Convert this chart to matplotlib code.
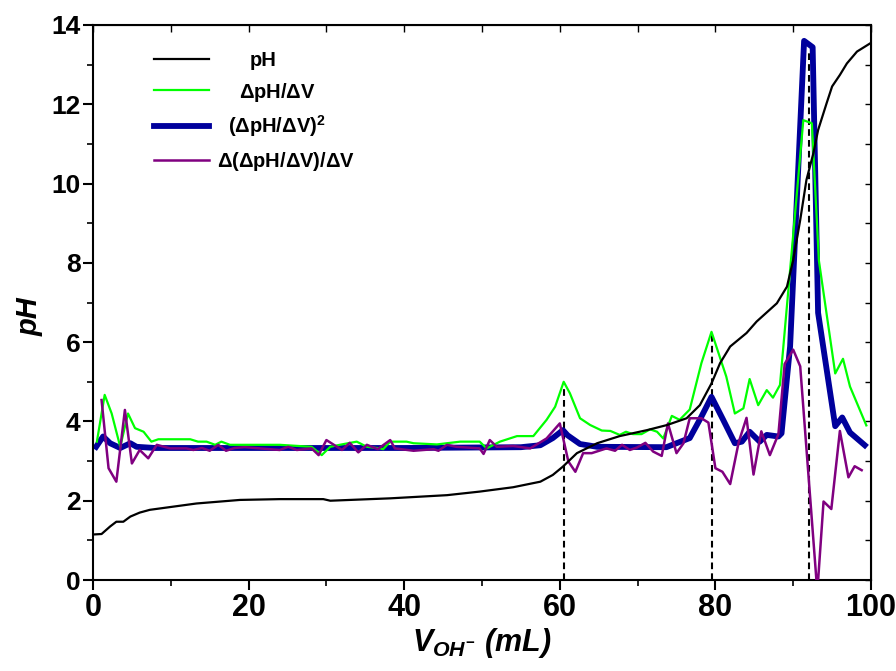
import matplotlib
matplotlib.use('Agg')
import matplotlib.pyplot as plt
from matplotlib.ticker import MultipleLocator

plt.rcParams['font.family'] = ['Liberation Sans', 'DejaVu Sans']
plt.rcParams['font.weight'] = 'bold'
plt.rcParams['mathtext.fontset'] = 'custom'
plt.rcParams['mathtext.rm'] = 'Liberation Sans:bold'
plt.rcParams['mathtext.it'] = 'Liberation Sans:bold:italic'
plt.rcParams['mathtext.bf'] = 'Liberation Sans:bold'

# --- data ---
ph_x = [0.2, 1.1, 2.2, 3.0, 3.9, 4.8, 6.0, 7.3, 10.3, 13.3, 18.9, 24.0, 29.6, 30.5, 38.2,
        45.5, 49.7, 54.0, 57.5, 59.1, 60.4, 62.2, 64.8, 67.7, 71.2, 73.8, 76.3, 78.0, 79.5,
        80.6, 81.9, 84.0, 85.3, 87.9, 88.3, 89.2, 90.0, 90.9, 91.7, 92.6, 93.2, 94.3, 95.0,
        96.0, 96.9, 98.2, 100.0]
ph_y = [1.15, 1.16, 1.35, 1.47, 1.47, 1.60, 1.70, 1.77, 1.85, 1.93, 2.02, 2.04, 2.04, 2.00, 2.06,
        2.14, 2.23, 2.34, 2.48, 2.65, 2.86, 3.20, 3.45, 3.63, 3.78, 3.91, 4.08, 4.41, 4.96,
        5.47, 5.89, 6.23, 6.52, 6.98, 7.11, 7.40, 8.07, 9.08, 10.09, 10.77, 11.35, 12.03, 12.45,
        12.74, 13.03, 13.33, 13.55]

d1_x = [0.5, 1.5, 2.4, 3.5, 4.5, 5.4, 6.5, 7.5, 8.4, 12.5, 13.5, 14.6, 15.7, 16.5, 17.6, 18.9,
        24.0, 28.1, 29.4, 30.5, 31.7, 33.9, 35.2, 36.9, 37.3, 38.2, 40.3, 41.2, 44.2, 47.2, 49.7,
        50.6, 52.3, 54.5, 56.6, 58.3, 59.4, 60.5, 61.3, 62.6, 63.9, 65.4, 66.5, 67.7, 68.5, 69.4,
        70.5, 71.6, 72.5, 73.3, 74.4, 75.4, 76.7, 78.2, 79.5, 81.4, 82.5, 83.6, 84.4, 85.5, 86.6,
        87.4, 88.3, 91.3, 92.4, 93.3, 95.4, 96.4, 97.3, 99.4]
d1_y = [3.49, 4.67, 4.20, 3.36, 4.20, 3.83, 3.74, 3.49, 3.55, 3.55, 3.49, 3.49, 3.41, 3.49, 3.41, 3.41,
        3.41, 3.36, 3.15, 3.36, 3.41, 3.49, 3.36, 3.32, 3.30, 3.49, 3.49, 3.45, 3.42, 3.49, 3.49,
        3.32, 3.49, 3.63, 3.63, 4.04, 4.37, 5.00, 4.71, 4.08, 3.91, 3.77, 3.76, 3.66, 3.74, 3.68,
        3.68, 3.80, 3.74, 3.57, 4.14, 4.04, 4.30, 5.47, 6.26, 5.13, 4.20, 4.33, 5.07, 4.41, 4.79,
        4.60, 4.92, 11.60, 11.52, 8.06, 5.21, 5.58, 4.88, 3.90]

sq_x = [0.4, 1.3, 2.2, 3.5, 4.8, 5.6, 8.0, 20.0, 40.0, 55.0, 57.5, 59.1, 60.4, 61.0, 62.6, 64.8,
        73.7, 75.0, 76.7, 78.2, 79.5, 81.0, 82.5, 83.4, 84.4, 85.7, 86.6, 88.1, 88.5, 89.6, 91.4,
        92.5, 93.2, 95.4, 96.3, 97.3, 99.2]
sq_y = [3.36, 3.62, 3.45, 3.33, 3.45, 3.36, 3.33, 3.33, 3.33, 3.35, 3.40, 3.58, 3.78, 3.65, 3.43, 3.36,
        3.35, 3.45, 3.58, 4.12, 4.62, 4.04, 3.45, 3.49, 3.74, 3.49, 3.66, 3.62, 3.70, 5.89, 13.60,
        13.44, 6.74, 3.88, 4.10, 3.72, 3.40]

d2_x = [1.1, 2.0, 3.0, 4.1, 5.0, 6.0, 7.1, 8.2, 9.9, 12.0, 12.9, 14.0, 15.0, 16.1, 17.1, 18.2,
        19.5, 24.0, 25.1, 26.2, 28.1, 29.0, 30.0, 32.0, 33.0, 34.1, 35.2, 36.6, 38.2, 38.8, 41.2,
        43.8, 44.4, 45.5, 46.7, 49.7, 50.2, 51.0, 51.9, 54.0, 56.2, 58.3, 60.0, 61.1, 62.0, 63.0,
        64.1, 66.0, 67.1, 68.0, 69.0, 69.9, 71.0, 72.0, 73.1, 73.9, 75.0, 75.9, 76.7, 78.2, 79.1,
        80.0, 80.9, 81.9, 83.0, 84.0, 84.9, 85.9, 87.0, 88.1, 88.9, 90.0, 90.9, 93.1, 93.9, 94.9,
        96.0, 97.1, 97.9, 98.8]
d2_y = [4.54, 2.82, 2.48, 4.29, 2.94, 3.28, 3.07, 3.41, 3.32, 3.32, 3.28, 3.33, 3.26, 3.41, 3.26, 3.33,
        3.35, 3.28, 3.36, 3.28, 3.32, 3.15, 3.53, 3.28, 3.46, 3.22, 3.41, 3.30, 3.53, 3.32, 3.26,
        3.30, 3.26, 3.41, 3.36, 3.32, 3.18, 3.53, 3.36, 3.38, 3.32, 3.57, 3.95, 2.99, 2.73, 3.20,
        3.20, 3.32, 3.26, 3.41, 3.28, 3.34, 3.46, 3.24, 3.13, 3.95, 3.20, 3.45, 4.08, 4.08, 3.97,
        2.82, 2.73, 2.42, 3.48, 4.09, 2.66, 3.75, 3.15, 3.68, 5.45, 5.81, 5.39, -0.3, 1.98, 1.79,
        3.76, 2.59, 2.87, 2.77]

# equivalence points (dashed markers)
eq_x = [60.6, 79.5, 92.0]
eq_top = [4.85, 6.2, 13.3]

labels = ['pH', r'$\Delta$pH/$\Delta$V', r'($\Delta$pH/$\Delta$V)$^{2}$',
          r'$\Delta$($\Delta$pH/$\Delta$V)/$\Delta$V']

fig = plt.figure(figsize=(8.96, 6.71), dpi=100)
ax = fig.add_axes([93 / 896, 1 - 580 / 671, 778 / 896, 555 / 671])

ax.vlines(eq_x, 0, eq_top, colors='black', linestyles=(0, (3.2, 2.0)), lw=1.5, zorder=1)
l_ph, = ax.plot(ph_x, ph_y, color='black', lw=1.6, zorder=5)
l_sq, = ax.plot(sq_x, sq_y, color='#00009c', lw=4.2, zorder=2)
l_d1, = ax.plot(d1_x, d1_y, color='#00ff00', lw=1.6, zorder=3)
l_d2, = ax.plot(d2_x, d2_y, color='#800080', lw=1.8, zorder=4)

ax.set_xlim(0, 100)
ax.set_ylim(0, 14)
ax.xaxis.set_major_locator(MultipleLocator(20))
ax.xaxis.set_minor_locator(MultipleLocator(10))
ax.yaxis.set_major_locator(MultipleLocator(2))
ax.yaxis.set_minor_locator(MultipleLocator(1))
ax.tick_params(which='major', direction='out', length=7, width=1.5, top=False, right=False)
ax.tick_params(which='minor', direction='out', length=4, width=1.2, top=False, right=False)
ax.tick_params(axis='y', labelsize=19, pad=2)
ax.tick_params(axis='x', labelsize=22, pad=2)
for sp in ax.spines.values():
    sp.set_linewidth(1.5)

top = ax.secondary_xaxis('top')
top.set_xticks(range(0, 101, 10))
top.tick_params(direction='in', length=5, width=1, labeltop=False)
right = ax.secondary_yaxis('right')
right.set_yticks(range(0, 15))
right.tick_params(direction='in', length=4, width=1, labelright=False)

ax.set_xlabel(r'$V_{OH^{-}}$ (mL)', fontsize=22, fontweight='bold', fontstyle='italic')
ax.xaxis.set_label_coords(0.5, -0.082)
ax.set_ylabel('pH', fontsize=21, fontweight='bold', fontstyle='italic')
ax.yaxis.set_label_coords(-0.064, 0.475)

leg = ax.legend([l_ph, l_d1, l_sq, l_d2], labels, loc='upper left', bbox_to_anchor=(0.055, 0.985),
                frameon=False, fontsize=14.5, handlelength=2.75, handletextpad=0.4, labelspacing=0.5)
shifts = [32, 22, 11, 0]
for t, s in zip(leg.get_texts(), shifts):
    t.set_position((s, 0))

fig.savefig('out.png', dpi=100)
